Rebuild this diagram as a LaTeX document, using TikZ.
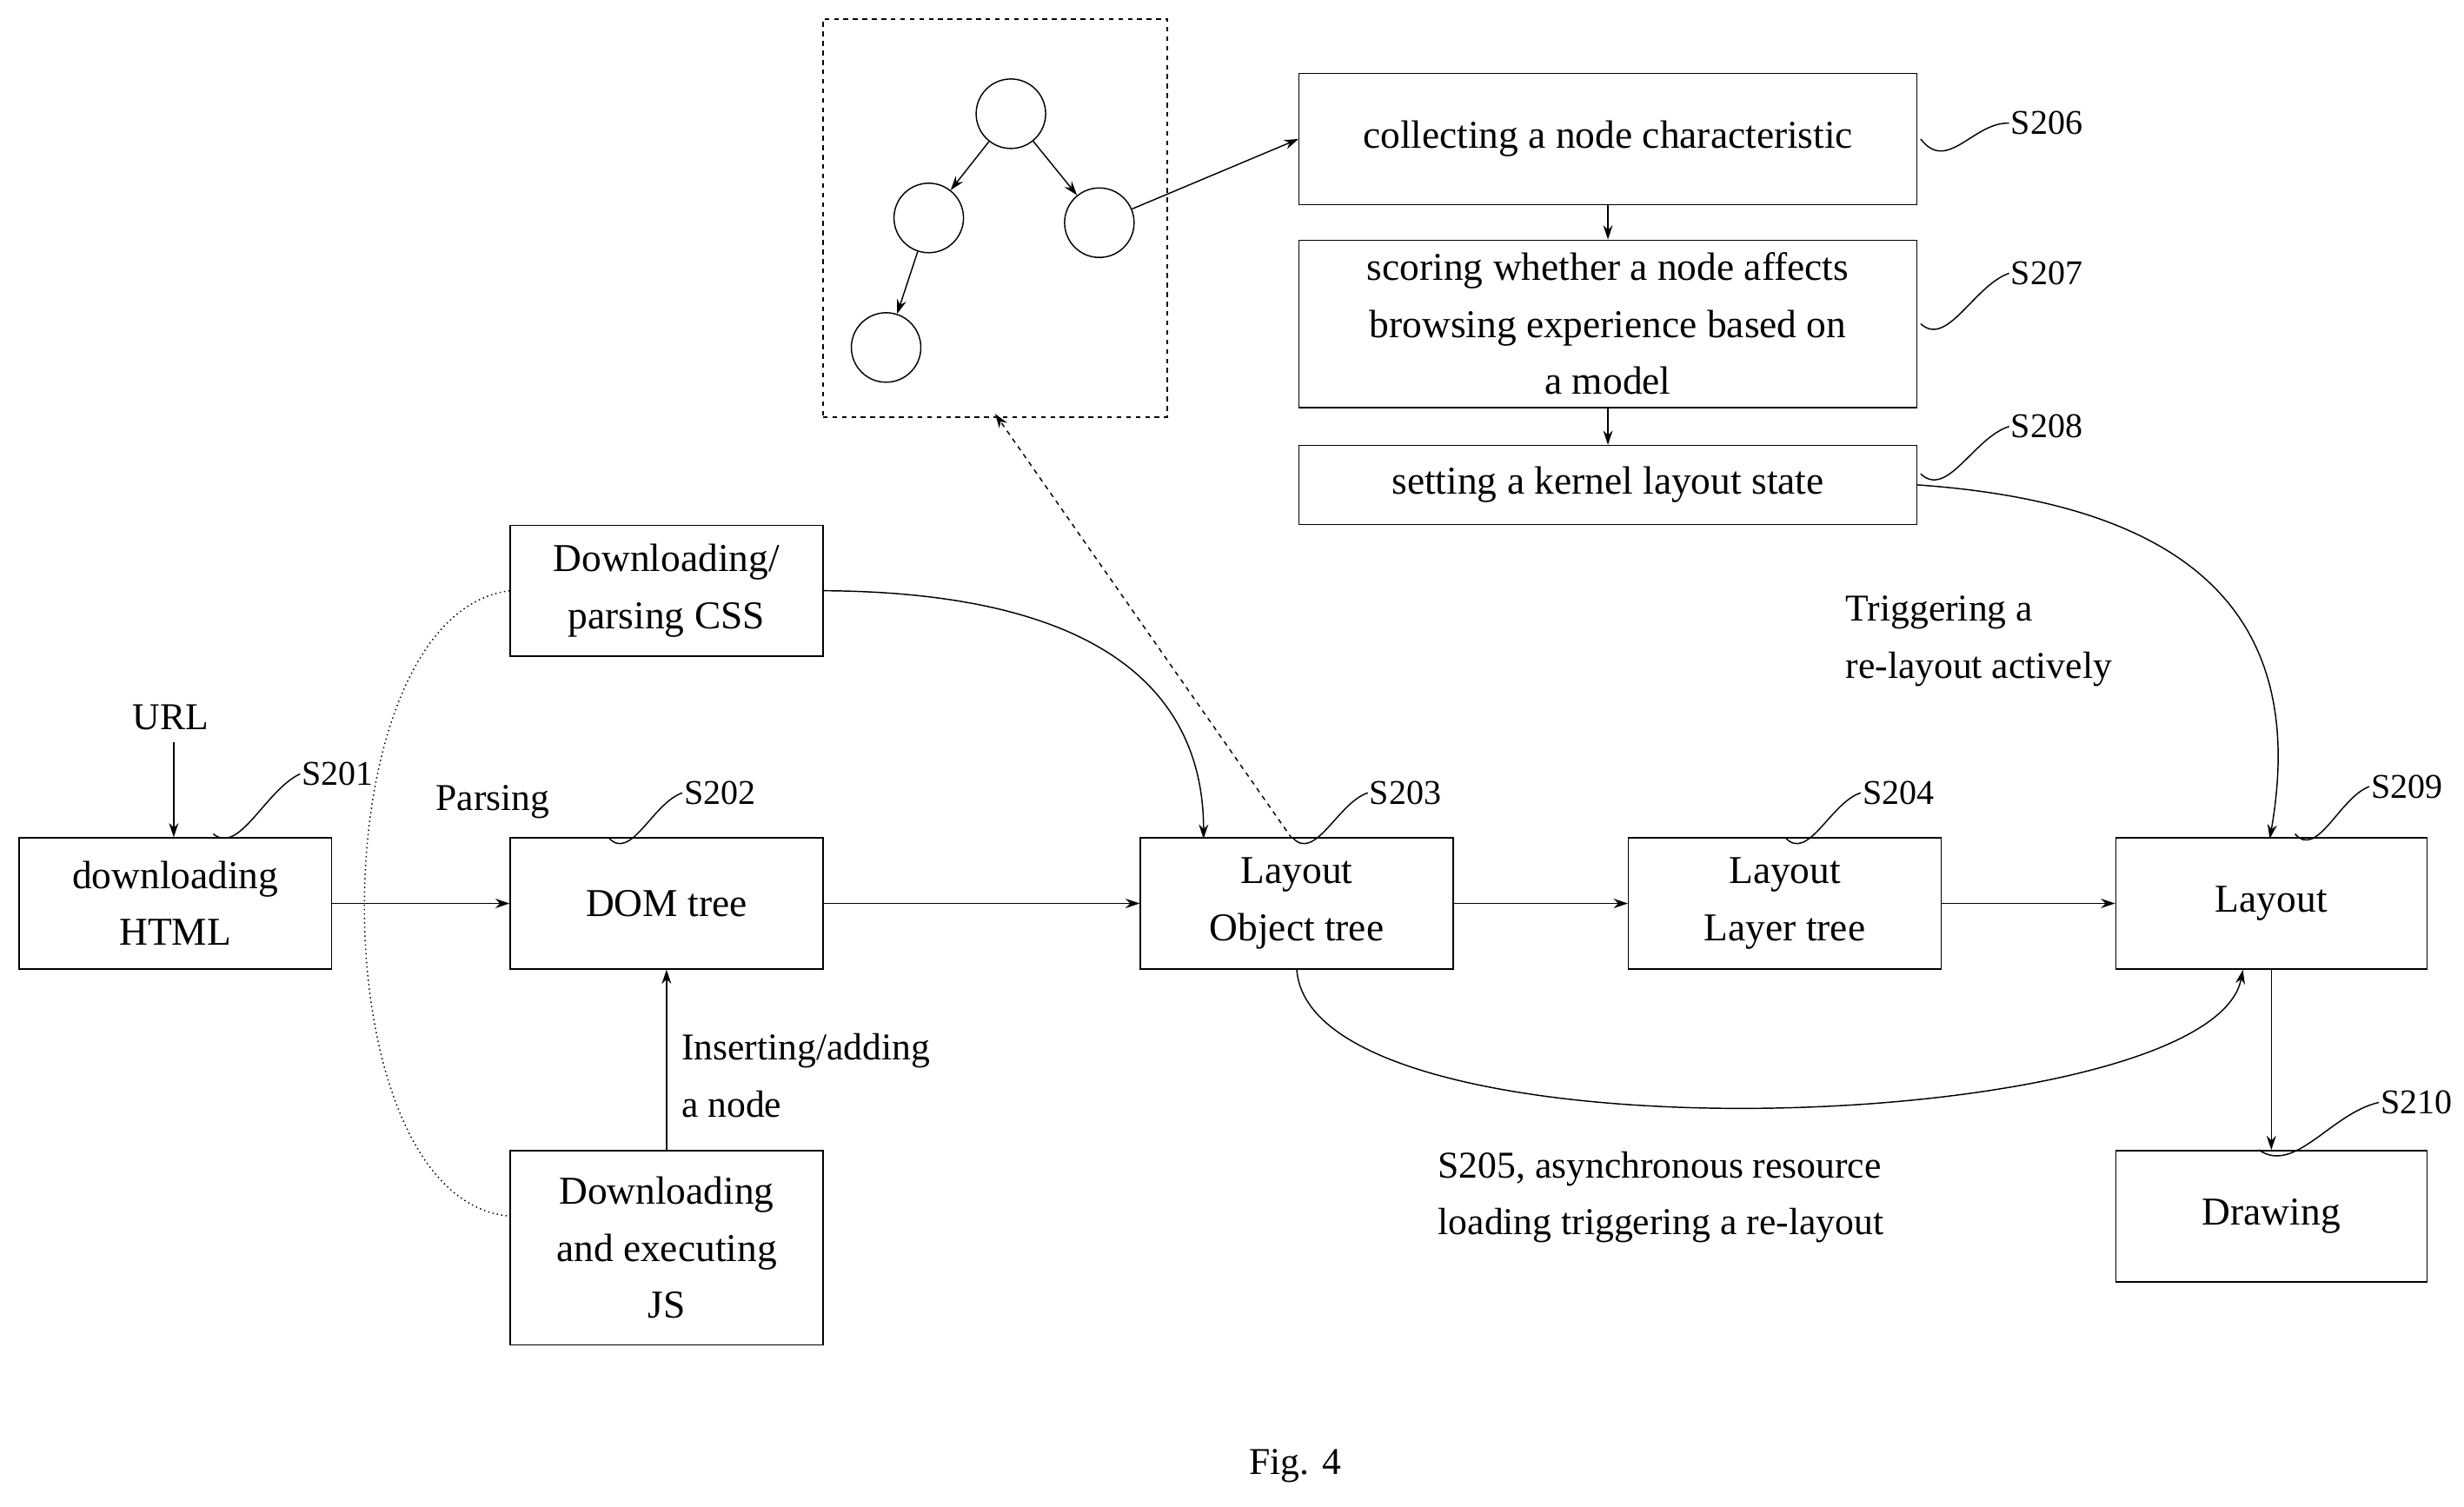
\documentclass[tikz,border=0pt]{standalone}
\usepackage{fontspec}
\setmainfont{Liberation Serif}
\usetikzlibrary{arrows.meta,calc}
\begin{document}
\begin{tikzpicture}[x=1pt,y=-1pt,
    box/.style={draw,thick,align=center,inner sep=0pt,font=\fontsize{25}{36}\selectfont},
    lbl/.style={font=\fontsize{24}{36}\selectfont,align=left},
    tag/.style={font=\fontsize{22}{26}\selectfont,anchor=west,inner sep=1pt},
    arr/.style={-{Stealth[length=9pt,width=6pt]},thick},
    circ/.style={draw,thick,circle,minimum size=44pt,inner sep=0pt}]
    \useasboundingbox (0,0) rectangle (1560,954);

    % Boxes of the main flow
    \node[box,minimum width=198pt,minimum height=83pt] (html) at (111,572) {downloading\\HTML};
    \node[box,minimum width=198pt,minimum height=83pt] (dom) at (422,572) {DOM tree};
    \node[box,minimum width=198pt,minimum height=83pt] (css) at (422,374) {Downloading/\\parsing CSS};
    \node[box,minimum width=198pt,minimum height=123pt] (js) at (422,790) {Downloading\\and executing\\JS};
    \node[box,minimum width=198pt,minimum height=83pt] (lo) at (821,572) {Layout\\Object tree};
    \node[box,minimum width=198pt,minimum height=83pt] (ll) at (1130,572) {Layout\\Layer tree};
    \node[box,minimum width=197pt,minimum height=83pt] (lay) at (1438,572) {Layout};
    \node[box,minimum width=197pt,minimum height=83pt] (drw) at (1438,770) {Drawing};

    % Boxes at the top
    \node[box,minimum width=391pt,minimum height=83pt] (col) at (1018,88) {collecting a node characteristic};
    \node[box,minimum width=391pt,minimum height=106pt] (sco) at (1018,205) {scoring whether a node affects\\browsing experience based on\\a model};
    \node[box,minimum width=391pt,minimum height=50pt] (set) at (1018,307) {setting a kernel layout state};

    % Dashed box with a small tree
    \node[draw,thick,dashed,minimum width=218pt,minimum height=252pt] (tree) at (630,138) {};
    \node[circ] (c1) at (640,72) {};
    \node[circ] (c2) at (588,138) {};
    \node[circ] (c3) at (696,141) {};
    \node[circ] (c4) at (561,220) {};
    \draw[arr] (c1) -- (c2);
    \draw[arr] (c1) -- (c3);
    \draw[arr] (c2) -- (c4);
    \draw[arr] (c3) -- (col.west);

    % Connectors
    \coordinate (url) at (110,470);
    \node[lbl] (urlt) at (108,454) {URL};
    \draw[arr] (url) -- (html.north west -| url);
    \draw[arr] (html) -- (dom);
    \node[lbl] (pars) at (312,508) {Parsing};
    \draw[arr] (dom) -- (lo);
    \draw[arr] (lo) -- (ll);
    \draw[arr] (ll) -- (lay);
    \draw[arr] (js) -- (dom);
    \node[lbl,anchor=west] (ins) at (428,681) {Inserting/adding\\a node};
    \draw[arr] (css.east) .. controls (700,375) and (762,440) .. (762,531);
    \draw[thick,dotted] (css.west) .. controls (200,390) and (200,760) .. (323,770);
    \coordinate (dsh) at (818,531);
    \coordinate (dse) at (630,262);
    \draw[arr,dashed] (dsh) -- (dse);
    \draw[arr] (col) -- (sco);
    \draw[arr] (sco) -- (set);
    \draw[arr] (set.east) .. controls (1400,320) and (1460,400) .. (1437,531);
    \node[lbl,anchor=west] (trig) at (1165,406) {Triggering a\\re-layout actively};
    \draw[arr] (lay) -- (drw);
    \draw[arr] (lo.south) .. controls (830,740) and (1400,720) .. (1420,614);
    \node[lbl,anchor=west] (s205) at (907,758) {S205, asynchronous resource\\loading triggering a re-layout};

    % Step tags
    \foreach \n/\t/\ax/\ay/\bx/\by in {html/S201/135/528/190/490, dom/S202/385/530/432/502,
        lo/S203/818/530/866/502, ll/S204/1130/530/1178/502, lay/S209/1453/528/1500/498,
        drw/S210/1430/728/1506/698, col/S206/1216/88/1272/78, sco/S207/1216/205/1272/173,
        set/S208/1216/300/1272/270}{
      \draw[thick] (\ax,\ay) .. controls ($(\ax,\ay)!0.3!(\bx,\by)+(0,25)$) and ($(\ax,\ay)!0.6!(\bx,\by)+(0,-5)$) .. (\bx,\by);
      \node[tag] (t\n) at (\bx,\by) {\t};
    }

    \node[lbl] (fig) at (820,928) {Fig. 4};
\end{tikzpicture}
\end{document}
